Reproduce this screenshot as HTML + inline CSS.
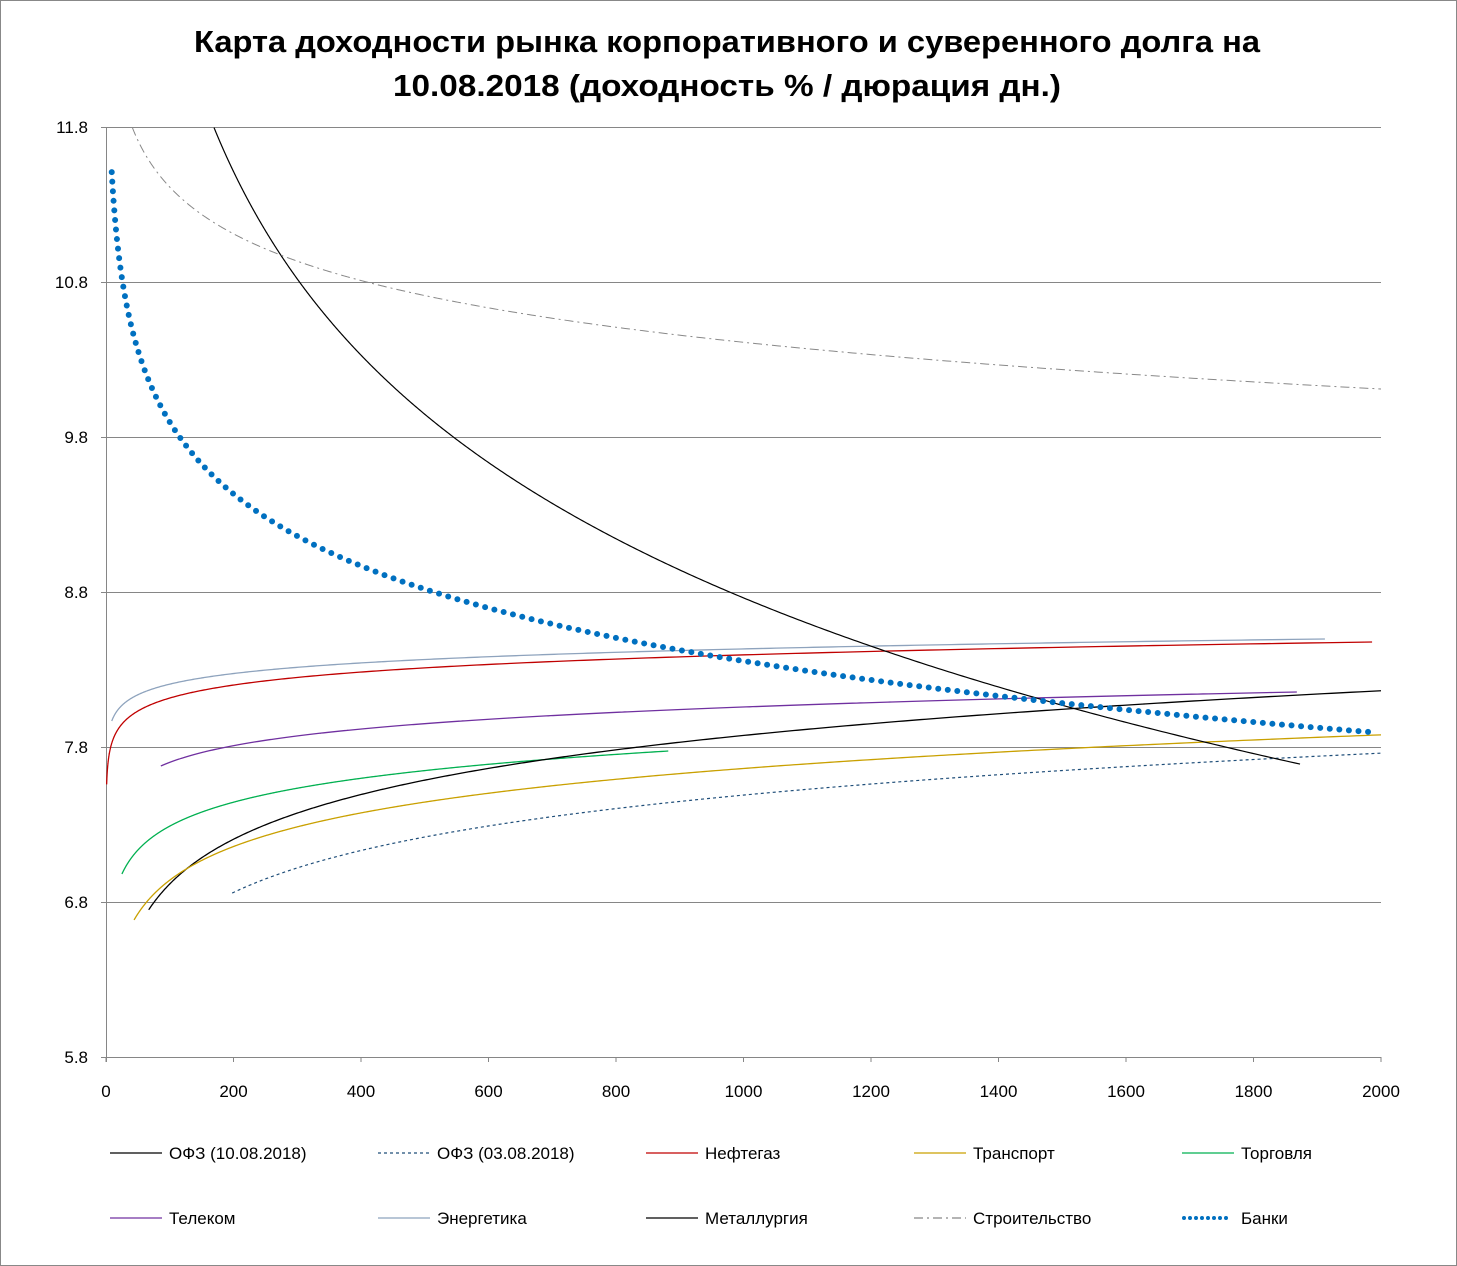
<!DOCTYPE html>
<html><head><meta charset="utf-8">
<style>
html,body{margin:0;padding:0;background:#fff;}
svg{display:block;}
text{font-family:"Liberation Sans",sans-serif;}
</style></head>
<body>
<svg id="s" width="1457" height="1266" viewBox="0 0 1457 1266" xmlns="http://www.w3.org/2000/svg">
<rect x="0.5" y="0.5" width="1456" height="1265" fill="#fff" stroke="#888" stroke-width="1"/>
<text x="727" y="52" font-size="31" font-weight="bold" text-anchor="middle" textLength="1066" lengthAdjust="spacingAndGlyphs">Карта доходности рынка корпоративного и суверенного долга на</text>
<text x="727" y="96" font-size="31" font-weight="bold" text-anchor="middle" textLength="668" lengthAdjust="spacingAndGlyphs">10.08.2018 (доходность % / дюрация дн.)</text>
<g id="grid" stroke="#868686" stroke-width="1"></g>
<g id="lab" font-size="17" fill="#000"></g>
<g id="curves" fill="none"></g>
<g id="leg" font-size="17"></g>
</svg>
<script>
var NS="http://www.w3.org/2000/svg";
function el(p,t,a,txt){var e=document.createElementNS(NS,t);for(var k in a)e.setAttribute(k,a[k]);if(txt!==undefined)e.textContent=txt;document.getElementById(p).appendChild(e);return e;}
var X0=106,X1=1381,Y0=127,Y1=1057;
var vals=["11.8","10.8","9.8","8.8","7.8","6.8","5.8"];
for(var i=0;i<7;i++){var y=Y0+i*155;
 el("grid","line",{x1:X0,y1:y+0.5,x2:X1,y2:y+0.5});
 el("grid","line",{x1:X0-5,y1:y+0.5,x2:X0,y2:y+0.5});
 el("lab","text",{x:88,y:y+6,"text-anchor":"end"},vals[i]);}
el("grid","line",{x1:X0+0.5,y1:Y0,x2:X0+0.5,y2:Y1+5});
for(var i=0;i<=10;i++){var x=X0+i*127.5;
 el("grid","line",{x1:x,y1:Y1,x2:x,y2:Y1+5});
 el("lab","text",{x:x,y:1097,"text-anchor":"middle"},String(i*200));}
function px(d){return X0+d*0.6375;}
var C=[
 // A,B,xs,xe,color,width,dash
 [754.6,-15.3,9,1912,"#8ea3bd",1.3,""],
 [784.4,-18.75,1,1986,"#c00000",1.3,""],
 [873,-24.03,86,1868,"#7030a0",1.3,""],
 [985,-34.5,25,882,"#00b050",1.3,""],
 [1181,-64.5,67,2000,"#000",1.3,""],
 [1103.5,-48.5,44,2000,"#c9a000",1.3,""],
 [1213,-60.5,198,2000,"#1f4e79",1.2,"3 3"],
 [-1232,264.9,160,1873,"#000",1.2,""],
 [-123.3,67.4,38,2000,"#888",1,"9 4 2 4"],
 [-56,103.8,9,1986,"#0070c0",6,"0 9.6"]
];
C.forEach(function(c){var d="";var n=600;
 for(var i=0;i<=n;i++){var t=i/n;var x=Math.exp(Math.log(c[2])+(Math.log(c[3])-Math.log(c[2]))*t);
  var y=c[0]+c[1]*Math.log(x);var X=px(x);
  if(y<Y0){continue;}
  d+=(d?"L":"M")+X.toFixed(2)+" "+y.toFixed(2);}
 var a={d:d,stroke:c[4],"stroke-width":c[5]};
 if(c[6]){a["stroke-dasharray"]=c[6];}
 if(c[5]>3){a["stroke-linecap"]="round";}
 el("curves","path",a);});
var L=[["ОФЗ (10.08.2018)","#000",""],["ОФЗ (03.08.2018)","#1f4e79","3 3"],["Нефтегаз","#c00000",""],["Транспорт","#c9a000",""],["Торговля","#00b050",""],
["Телеком","#7030a0",""],["Энергетика","#8ea3bd",""],["Металлургия","#000",""],["Строительство","#888","9 4 2 4"],["Банки","#0070c0","0 6"]];
L.forEach(function(l,i){var col=i%5,row=Math.floor(i/5);var x=110+col*268,y=row?1218:1153;
 var a={x1:x,y1:y,x2:x+52,y2:y,stroke:l[1],"stroke-width":l[0]=="Банки"?4:1.3};
 if(l[2])a["stroke-dasharray"]=l[2];if(l[0]=="Банки")a["stroke-linecap"]="round",a.x1=x+2,a.x2=x+50;
 el("leg","line",a);
 el("leg","text",{x:x+59,y:y+6},l[0]);});
</script>
</body></html>
